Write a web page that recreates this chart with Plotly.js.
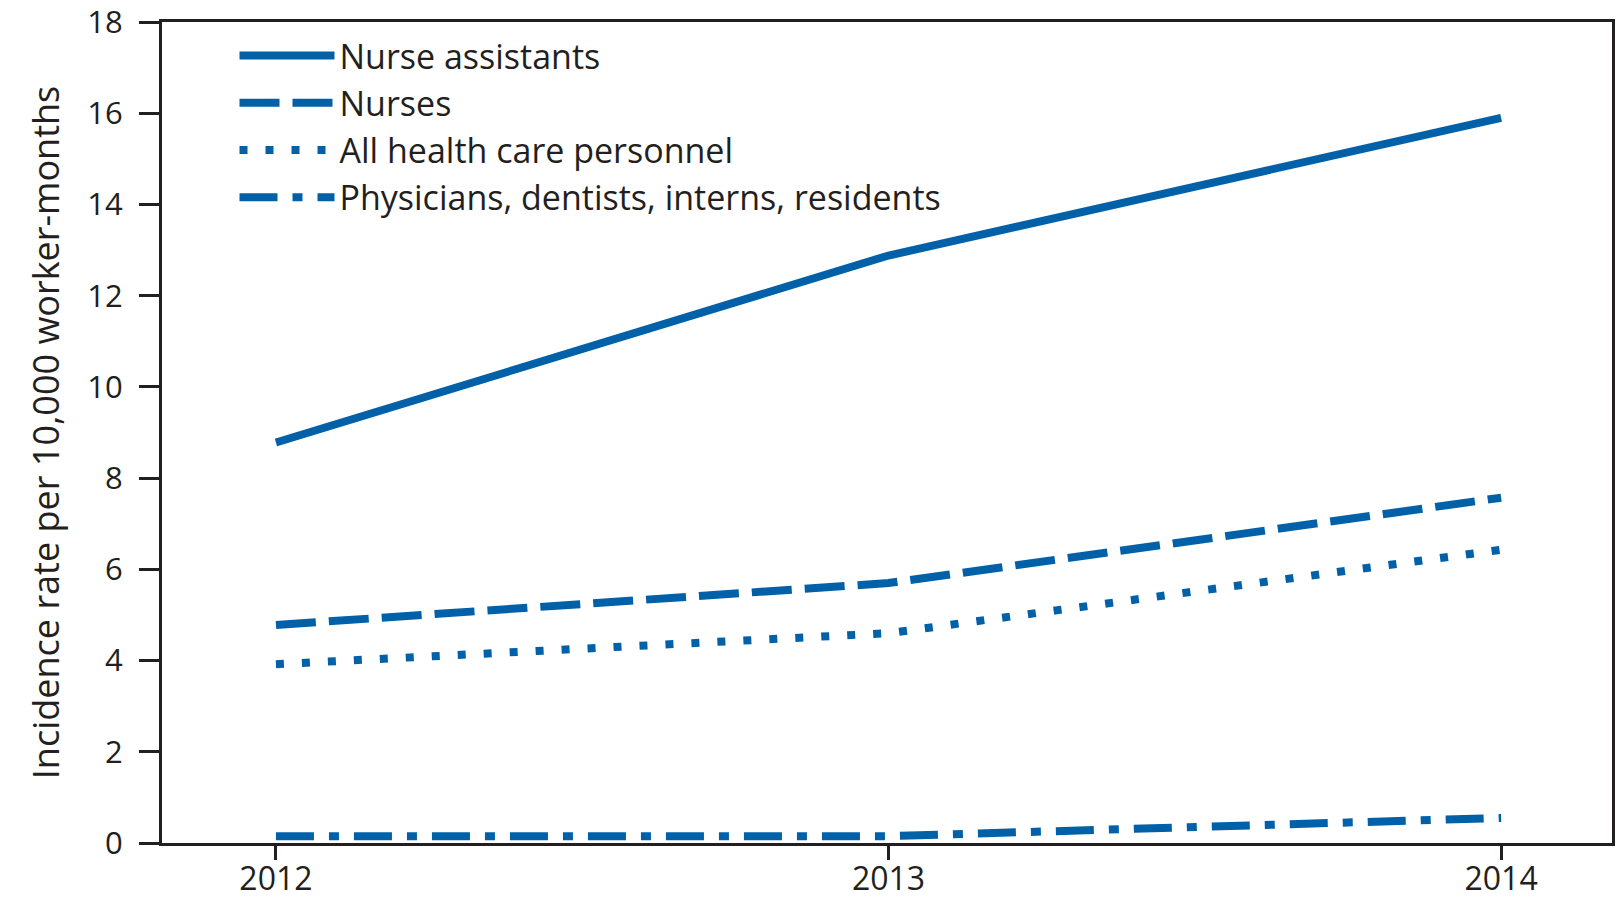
<!DOCTYPE html>
<html>
<head>
<meta charset="utf-8">
<script src="https://cdn.plot.ly/plotly-3.0.1.min.js"></script>
<style>html,body{margin:0;padding:0;background:#fff;}#chart{width:1620px;height:903px;}</style>
</head>
<body>
<div id="chart"></div>
<script>
const years = [2012, 2013, 2014];
const nurseAssistants = [8.78, 12.88, 15.9];
const nurses = [4.78, 5.7, 7.57];
const allPersonnel = [3.92, 4.6, 6.43];
const physicians = [0.15, 0.15, 0.55];
const seriesNames = ["Nurse assistants", "Nurses", "All health care personnel", "Physicians, dentists, interns, residents"];
const yTicks = [0, 2, 4, 6, 8, 10, 12, 14, 16, 18];

const blue = "#0060a8";
const ink = "#231f20";
const font = "Open Sans, sans-serif";

const traces = [
  {x: years, y: nurseAssistants, name: seriesNames[0], mode: "lines", line: {color: blue, width: 8}},
  {x: years, y: nurses, name: seriesNames[1], mode: "lines", line: {color: blue, width: 8, dash: "40px,13px"}},
  {x: years, y: allPersonnel, name: seriesNames[2], mode: "lines", line: {color: blue, width: 8, dash: "8px,18px"}},
  {x: years, y: physicians, name: seriesNames[3], mode: "lines", line: {color: blue, width: 8, dash: "38px,15px,10px,15px"}}
];

const layout = {
  width: 1620, height: 903,
  margin: {l: 162, r: 8, t: 22, b: 60},
  paper_bgcolor: "#fff", plot_bgcolor: "#fff",
  font: {family: font, color: ink, size: 30},
  showlegend: true,
  legend: {x: 0.05, y: 0.994, xanchor: "left", yanchor: "top", bgcolor: "rgba(0,0,0,0)",
           font: {family: font, size: 34, color: ink}, itemwidth: 95},
  xaxis: {
    range: [2011.814, 2014.181], tickvals: years, ticktext: years.map(String),
    showgrid: false, zeroline: false, showline: true, linecolor: ink, linewidth: 3, mirror: true,
    ticks: "outside", ticklen: 14, tickwidth: 3, tickcolor: ink, ticklabelstandoff: -8,
    tickfont: {family: font, size: 32, color: ink}
  },
  yaxis: {
    range: [0, 18], tickvals: yTicks, ticktext: yTicks.map(String), ticklabeloverflow: "allow",
    showgrid: false, zeroline: false, showline: true, linecolor: ink, linewidth: 3, mirror: true,
    ticks: "outside", ticklen: 20, tickwidth: 3, tickcolor: ink, ticklabelstandoff: 10,
    tickfont: {family: font, size: 31, color: ink},
    title: {text: "Incidence rate per 10,000 worker-months", font: {family: font, size: 36, color: ink}, standoff: 17}
  }
};

Plotly.newPlot("chart", traces, layout, {displayModeBar: false, staticPlot: true});
</script>
</body>
</html>
